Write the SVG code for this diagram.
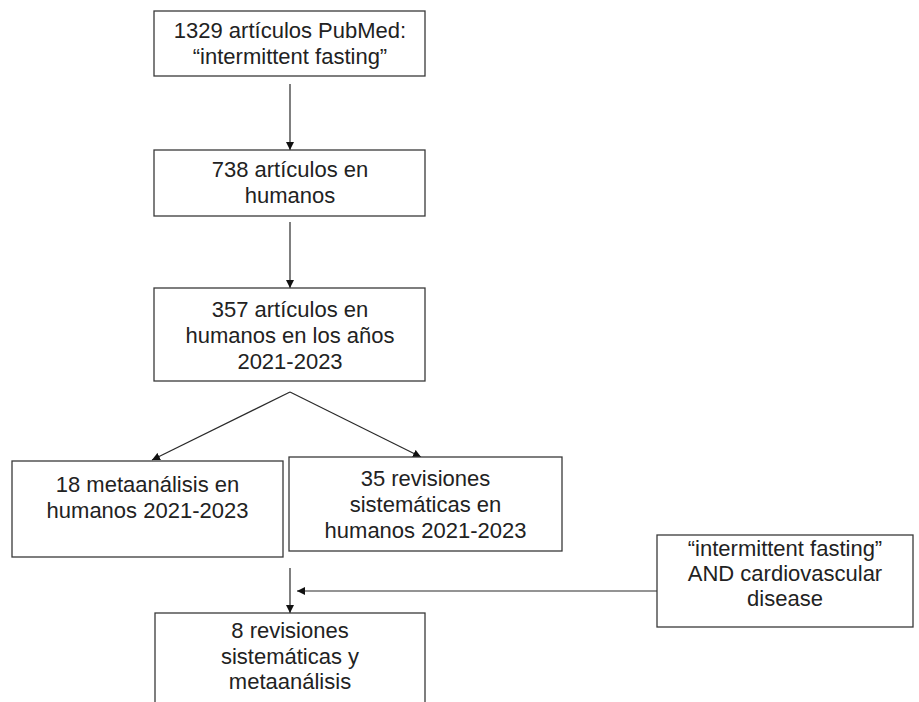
<svg xmlns="http://www.w3.org/2000/svg" width="919" height="702" viewBox="0 0 919 702">
  <style>
    .box { fill: #ffffff; stroke: #3a3a3a; stroke-width: 1.3; }
    .lbl { font-family: "Liberation Sans", Arial, sans-serif; font-size: 22px; fill: #222222; text-anchor: middle; }
    .edge { stroke: #2a2a2a; stroke-width: 1.2; fill: none; marker-end: url(#arrow); }
  </style>
  <defs>
    <marker id="arrow" viewBox="0 0 10 10" refX="10" refY="5" markerWidth="8" markerHeight="8" markerUnits="userSpaceOnUse" orient="auto">
      <path d="M0,0 L10,5 L0,10 z" fill="#111111"/>
    </marker>
  </defs>
  <rect width="919" height="702" fill="#ffffff"/>

  <g id="connectors">
    <line class="edge" x1="290" y1="84" x2="290" y2="150"/>
    <line class="edge" x1="290" y1="222" x2="290" y2="288"/>
    <line class="edge" x1="290" y1="392" x2="152" y2="460"/>
    <line class="edge" x1="290" y1="392" x2="421" y2="457"/>
    <line class="edge" x1="290" y1="568" x2="290" y2="613"/>
    <line class="edge" x1="657" y1="591" x2="297" y2="591"/>
  </g>

  <g id="n-pubmed">
    <rect class="box" x="154" y="11" width="271" height="65"/>
    <text class="lbl" x="290" y="38">1329 artículos PubMed:</text>
    <text class="lbl" x="290" y="64">“intermittent fasting”</text>
  </g>

  <g id="n-humanos">
    <rect class="box" x="154" y="150" width="271" height="66"/>
    <text class="lbl" x="290" y="177">738 artículos en</text>
    <text class="lbl" x="290" y="203">humanos</text>
  </g>

  <g id="n-anios">
    <rect class="box" x="154" y="288" width="271" height="93"/>
    <text class="lbl" x="290" y="317">357 artículos en</text>
    <text class="lbl" x="290" y="343">humanos en los años</text>
    <text class="lbl" x="290" y="369">2021-2023</text>
  </g>

  <g id="n-metaanalisis">
    <rect class="box" x="12" y="461" width="271" height="96"/>
    <text class="lbl" x="147.5" y="492">18 metaanálisis en</text>
    <text class="lbl" x="147.5" y="518">humanos 2021-2023</text>
  </g>

  <g id="n-revisiones">
    <rect class="box" x="289" y="457" width="273" height="94"/>
    <text class="lbl" x="425.5" y="486">35 revisiones</text>
    <text class="lbl" x="425.5" y="512">sistemáticas en</text>
    <text class="lbl" x="425.5" y="538">humanos 2021-2023</text>
  </g>

  <g id="n-filtro">
    <rect class="box" x="657" y="535" width="256" height="92"/>
    <text class="lbl" x="785" y="556">“intermittent fasting”</text>
    <text class="lbl" x="785" y="581">AND cardiovascular</text>
    <text class="lbl" x="785" y="606">disease</text>
  </g>

  <g id="n-final">
    <rect class="box" x="155" y="613" width="270" height="110"/>
    <text class="lbl" x="290" y="638">8 revisiones</text>
    <text class="lbl" x="290" y="664">sistemáticas y</text>
    <text class="lbl" x="290" y="689">metaanálisis</text>
  </g>
</svg>
